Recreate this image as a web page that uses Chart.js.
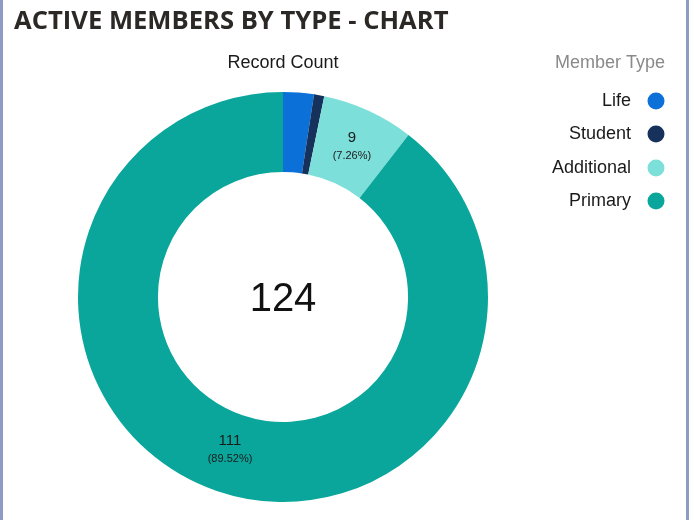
<!DOCTYPE html>
<html>
<head>
<meta charset="utf-8">
<script src="https://cdn.jsdelivr.net/npm/chart.js@4.4.1/dist/chart.umd.min.js"></script>
<style>
  html, body { margin: 0; padding: 0; background: #ffffff; }
  #wrap { position: relative; width: 694px; height: 520px; overflow: hidden; background: #fff; }
  #lb { position: absolute; left: 0; top: 0; width: 3px; height: 520px; background: #8f9bc4; }
  #rb { position: absolute; left: 686px; top: 0; width: 3px; height: 520px; background: #8f9bc4; }
  canvas { position: absolute; left: 0; top: 0; }
</style>
</head>
<body>
<div id="wrap">
  <canvas id="c" width="694" height="520"></canvas>
  <div id="lb"></div>
  <div id="rb"></div>
</div>
<script>
const chartTitle = "ACTIVE MEMBERS BY TYPE - CHART";
const measureTitle = "Record Count";
const legendTitle = "Member Type";
const categories = ["Life", "Student", "Additional", "Primary"];
const recordCounts = [3, 1, 9, 111];
const sliceColors = ["#0b70d8", "#16325c", "#7ddfd9", "#0aa69b"];
const labelledSlices = ["Additional", "Primary"];

const total = recordCounts.reduce((a, b) => a + b, 0);

const overlay = {
  id: 'overlay',
  afterDraw(chart) {
    const ctx = chart.ctx;
    ctx.save();
    // Title
    ctx.fillStyle = '#2b2826';
    ctx.font = 'bold 25.6px "Open Sans", sans-serif';
    ctx.textAlign = 'left';
    ctx.textBaseline = 'middle';
    ctx.fillText(chartTitle, 14, 22);
    // Measure title
    ctx.fillStyle = '#1a1a1a';
    ctx.font = '18px "Liberation Sans", Arial, sans-serif';
    ctx.textAlign = 'center';
    ctx.fillText(measureTitle, 283, 63);
    // Legend
    ctx.fillStyle = '#8a8a8a';
    ctx.textAlign = 'right';
    ctx.fillText(legendTitle, 665, 63);
    const ys = [101, 134, 168, 201];
    categories.forEach((c, i) => {
      ctx.fillStyle = '#1a1a1a';
      ctx.font = '18px "Liberation Sans", Arial, sans-serif';
      ctx.textAlign = 'right';
      ctx.fillText(c, 631, ys[i]);
      ctx.beginPath();
      ctx.arc(656, ys[i], 8.5, 0, Math.PI * 2);
      ctx.fillStyle = sliceColors[i];
      ctx.fill();
    });
    // Center total
    const meta = chart.getDatasetMeta(0);
    const arc0 = meta.data[0];
    const cx = arc0.x, cy = arc0.y;
    ctx.fillStyle = '#111';
    ctx.font = '40px "Liberation Sans", Arial, sans-serif';
    ctx.textAlign = 'center';
    ctx.fillText(String(total), cx, cy + 3);
    // Slice labels
    meta.data.forEach((arc, i) => {
      if (!labelledSlices.includes(categories[i])) return;
      const p = arc.getProps(['startAngle', 'endAngle', 'innerRadius', 'outerRadius'], true);
      let mid = (p.startAngle + p.endAngle) / 2;
      const r = (p.innerRadius + p.outerRadius) / 2;
      let x = cx + Math.cos(mid) * r;
      let y = cy + Math.sin(mid) * r;
      if (categories[i] === 'Primary') {
        // label placed in the lower-left of the ring
        const a = 1.904;
        x = cx + Math.cos(a) * 162;
        y = cy + Math.sin(a) * 162;
      }
      const v = recordCounts[i];
      const pct = (v / total * 100).toFixed(2) + '%';
      ctx.fillStyle = '#1a1a1a';
      ctx.font = '15px "Liberation Sans", Arial, sans-serif';
      ctx.fillText(String(v), x, y - 9);
      ctx.font = '11px "Liberation Sans", Arial, sans-serif';
      ctx.fillText('(' + pct + ')', x, y + 9);
    });
    ctx.restore();
  }
};

new Chart(document.getElementById('c'), {
  type: 'doughnut',
  data: {
    labels: categories,
    datasets: [{
      data: recordCounts,
      backgroundColor: sliceColors,
      borderWidth: 0,
      hoverOffset: 0
    }]
  },
  options: {
    responsive: false,
    animation: false,
    cutout: '61%',
    layout: { padding: { left: 78, right: 206, top: 92, bottom: 18 } },
    plugins: {
      legend: { display: false },
      title: { display: false },
      tooltip: { enabled: false }
    }
  },
  plugins: [overlay]
});
</script>
</body>
</html>
